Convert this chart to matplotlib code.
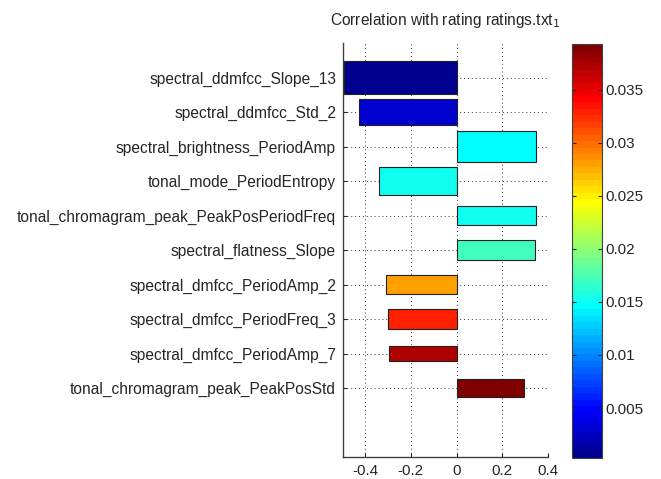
import numpy as np
import matplotlib
matplotlib.use("Agg")
import matplotlib.pyplot as plt
from matplotlib import colors, colorbar

plt.rcParams['font.family'] = ['Liberation Sans', 'DejaVu Sans']

# features, top to bottom
features = [
    "spectral_ddmfcc_Slope_13",
    "spectral_ddmfcc_Std_2",
    "spectral_brightness_PeriodAmp",
    "tonal_mode_PeriodEntropy",
    "tonal_chromagram_peak_PeakPosPeriodFreq",
    "spectral_flatness_Slope",
    "spectral_dmfcc_PeriodAmp_2",
    "spectral_dmfcc_PeriodFreq_3",
    "spectral_dmfcc_PeriodAmp_7",
    "tonal_chromagram_peak_PeakPosStd",
]
correlation = [-0.494, -0.428, 0.349, -0.341, 0.349, 0.344, -0.310, -0.301, -0.294, 0.297]
# colour value of each bar (colorbar scale)
pvalue = [0.0003, 0.0031, 0.0146, 0.0152, 0.0152, 0.0171, 0.0280, 0.0329, 0.0372, 0.0393]
# bar thickness
thickness = [0.96, 0.75, 0.90, 0.81, 0.56, 0.60, 0.55, 0.60, 0.44, 0.53]

xticks = [-0.4, -0.2, 0, 0.2, 0.4]
xticklabels = ["-0.4", "-0.2", "0", "0.2", "0.4"]
cticks = [0.005, 0.01, 0.015, 0.02, 0.025, 0.03, 0.035]
cticklabels = ["0.005", "0.01", "0.015", "0.02", "0.025", "0.03", "0.035"]
vmin, vmax = 0.0003, 0.0393


def matlab_jet(n=64):
    # same construction as matlab's jet(n)
    m = int(np.ceil(n / 4))
    u = np.concatenate([np.arange(1, m + 1) / m, np.ones(m - 1), np.arange(m, 0, -1) / m])
    g = int(np.ceil(m / 2)) - (1 if n % 4 == 1 else 0) + np.arange(1, len(u) + 1)
    r = g + m
    b = g - m
    J = np.zeros((n, 3))
    ok = r <= n
    J[r[ok] - 1, 0] = u[ok]
    ok = g <= n
    J[g[ok] - 1, 1] = u[ok]
    ok = b >= 1
    J[b[ok] - 1, 2] = u[ok]
    return colors.ListedColormap(J)


cmap = matlab_jet(64)
norm = colors.Normalize(vmin=vmin, vmax=vmax)

fig = plt.figure(figsize=(6.61, 4.79), dpi=100)
ax = fig.add_axes([0.519, 0.046, 0.310, 0.864])

pos = np.arange(1, len(features) + 1)
ax.barh(pos, correlation, height=thickness, color=cmap(norm(np.array(pvalue))),
        edgecolor='#202020', linewidth=0.8, zorder=3)

ax.set_ylim(12, 0)
ax.set_xlim(-0.497, 0.4)
ax.set_yticks(pos)
ax.set_yticklabels(features, fontsize=11.2)
ax.set_xticks(xticks)
ax.set_xticklabels(xticklabels, fontsize=11)
ax.tick_params(direction='in', length=3, width=0.8, colors='#262626')
ax.tick_params(axis='y', pad=5)
ax.tick_params(axis='x', pad=5)

ax.grid(True, linestyle=(0, (1, 3)), color='#333333', linewidth=0.7, zorder=0)
for s in ['top', 'right']:
    ax.spines[s].set_visible(False)
for s in ['left', 'bottom']:
    ax.spines[s].set_color('#404040')
    ax.spines[s].set_linewidth(1.0)

ax.set_title("Correlation with rating ratings.txt$_1$", fontsize=11.2, pad=13, color='#262626')

cax = fig.add_axes([0.865, 0.044, 0.046, 0.864])
cb = colorbar.ColorbarBase(cax, cmap=cmap, norm=norm, orientation='vertical')
cb.set_ticks(cticks)
cb.set_ticklabels(cticklabels)
cb.outline.set_edgecolor('#404040')
cax.tick_params(direction='in', length=3, width=0.8, labelsize=11, left=True, right=True, pad=2, colors='#262626')

fig.savefig("out.png", dpi=100)
